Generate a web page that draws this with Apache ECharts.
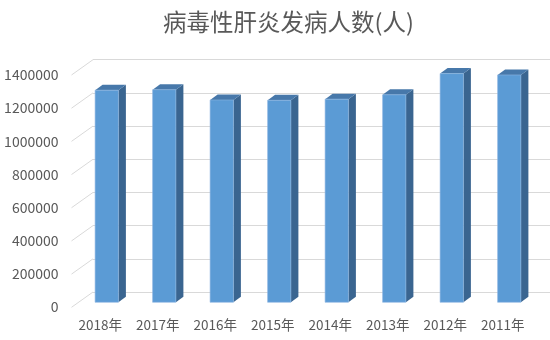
<!DOCTYPE html>
<html><head><meta charset="utf-8">
<script src="https://cdn.jsdelivr.net/npm/echarts@6/dist/echarts.min.js"></script>
<style>html,body{margin:0;padding:0;background:#fff}#c{width:550px;height:340px}</style>
</head><body><div id="c"></div>
<script>
const titleText = '病毒性肝炎发病人数(人)';
const categories = ['2018年','2017年','2016年','2015年','2014年','2013年','2012年','2011年'];
const cases = [1280000, 1283000, 1221000, 1219000, 1226000, 1252000, 1380000, 1372000];
const yTicks = [0, 200000, 400000, 600000, 800000, 1000000, 1200000, 1400000];

const FONT = '"Noto Sans CJK SC","Liberation Sans",sans-serif';
const TXT = '#595959';
const DEPTH_X = 7.5, DEPTH_Y = 5.5;     // bar side depth
const WALL_X = 21.5, WALL_Y = 15.3;     // floor/wall depth

const chart = echarts.init(document.getElementById('c'));
chart.setOption({
  animation: false,
  title: { text: titleText, left: 158, top: 5,
    textStyle: { fontFamily: FONT, fontSize: 23.5, fontWeight: 'normal', color: TXT } },
  grid: [
    { left: 71.5, right: 18.5, top: 75, bottom: 33.3 },   // front (labels)
    { left: 93, right: 0, top: 59.7, bottom: 48 },        // back wall (gridlines)
    { left: 78, right: 12, top: 70.3, bottom: 37.7 }      // bars
  ],
  xAxis: [
    { gridIndex: 0, type: 'category', data: categories,
      axisLine: { show: false }, axisTick: { show: false }, splitLine: { show: false },
      axisLabel: { color: TXT, fontFamily: FONT, fontSize: 13.5, margin: 11, interval: 0 } },
    { gridIndex: 1, type: 'value', min: 0, max: 1, show: false },
    { gridIndex: 2, type: 'category', data: categories, show: false }
  ],
  yAxis: [
    { gridIndex: 0, type: 'value', min: 0, max: 1400000, interval: 200000,
      axisLine: { show: false }, axisTick: { show: false }, splitLine: { show: false },
      axisLabel: { color: TXT, fontFamily: FONT, fontSize: 14, margin: 13,
        formatter: v => String(v) } },
    { gridIndex: 1, type: 'value', min: 0, max: 1400000, interval: 200000,
      axisLine: { show: false }, axisTick: { show: false }, axisLabel: { show: false },
      splitLine: { show: true, lineStyle: { color: '#d9d9d9', width: 1 } } },
    { gridIndex: 2, type: 'value', min: 0, max: 1400000, show: false }
  ],
  series: [
    { type: 'custom', xAxisIndex: 1, yAxisIndex: 1, silent: true, z: 1,
      data: yTicks.map(v => [0, v]),
      renderItem: function (params, api) {
        const p = api.coord([0, api.value(1)]);
        return { type: 'line', shape: { x1: p[0], y1: p[1], x2: p[0] - WALL_X, y2: p[1] + WALL_Y },
          style: { stroke: '#d9d9d9', lineWidth: 1 } };
      } },
    { type: 'custom', xAxisIndex: 2, yAxisIndex: 2, z: 3,
      data: cases.map((v, i) => [i, v]),
      renderItem: function (params, api) {
        const top = api.coord([api.value(0), api.value(1)]);
        const base = api.coord([api.value(0), 0]);
        const w = api.size([1, 0])[0] * 0.405;
        const x0 = top[0] - w / 2, x1 = top[0] + w / 2;
        const yT = top[1], yB = base[1];
        return { type: 'group', children: [
          { type: 'polygon', shape: { points: [[x1, yT], [x1 + DEPTH_X, yT - DEPTH_Y], [x1 + DEPTH_X, yB - DEPTH_Y], [x1, yB]] },
            style: { fill: '#3a6590' } },
          { type: 'polygon', shape: { points: [[x0, yT], [x0 + DEPTH_X, yT - DEPTH_Y], [x1 + DEPTH_X, yT - DEPTH_Y], [x1, yT]] },
            style: { fill: '#4778aa' } },
          { type: 'rect', shape: { x: x0, y: yT, width: w, height: yB - yT },
            style: { fill: '#5b9bd5', stroke: '#8db6e0', lineWidth: 0.6 } }
        ] };
      } }
  ]
});
</script></body></html>
